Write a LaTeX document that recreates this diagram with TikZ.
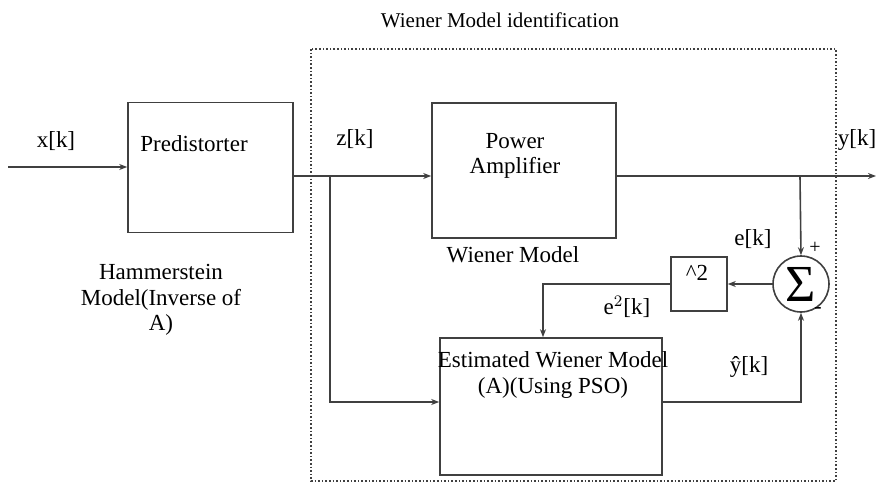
\documentclass[tikz,border=0pt]{standalone}
\usepackage{fontspec}
\setmainfont{Liberation Serif}
\usetikzlibrary{arrows.meta}
\tikzset{
  block/.style={draw, thick, draw=black!75, inner sep=0pt},
  sig/.style={->, >={Stealth[length=4pt,width=3pt]}, draw=black!75, thick},
  txt/.style={font=\fontsize{11.5}{12.8}\selectfont, inner sep=0pt, align=center}
}
\begin{document}
\begin{tikzpicture}[x=0.5pt, y=-0.5pt]
  \useasboundingbox (0,0) rectangle (880,482);
  % blocks
  \node [block, minimum width=82.5pt, minimum height=65pt] (pred) at (210.5,167.5) {};
  \node [block, minimum width=92pt, minimum height=67.5pt] (pa) at (524,170.5) {};
  \node [block, minimum width=111pt, minimum height=68.5pt] (est) at (551,406.5) {};
  \node [block, minimum width=28pt, minimum height=27pt] (sq) at (699,284) {};
  \node [draw, thick, draw=black!75, circle, minimum size=28pt, inner sep=0pt] (sum) at (801,284)
    {\fontsize{26}{26}\selectfont Σ};
  \draw [densely dotted, thick, black!75] (311,49) rectangle (836,481);
  % texts
  \node [txt] (predtxt) at (194,144) {Predistorter};
  \node [txt] (patxt) at (515,156) {Power\\Amplifier};
  \node [txt] (esttxt) at (553,375) {Estimated Wiener Model\\(A)(Using PSO)};
  \node [txt] (sqtxt) at (697,273) {\^{}2};
  \node [txt] (ham) at (161,300) {Hammerstein\\Model(Inverse of\\A)};
  \node [txt] (wm) at (513,255) {Wiener Model};
  \node [txt, font=\fontsize{10.5}{12}\selectfont] (wmi) at (500,20) {Wiener Model identification};
  \node [txt] (xk) at (56,141) {x[k]};
  \node [txt] (zk) at (355,139) {z[k]};
  \node [txt] (yk) at (857,140) {y[k]};
  \node [txt] (ek) at (753,239) {e[k]};
  \node [txt] (e2k) at (627,307) {e$^{2}$[k]};
  \node [txt] (yhat) at (749,367) {ŷ[k]};
  \node [txt, font=\fontsize{10}{10}\selectfont] (plus) at (815,248) {+};
  \node [txt, font=\fontsize{11}{11}\selectfont] (minus) at (818,310) {-};
  % connectors
  \coordinate (in) at (8,167);
  \coordinate (out) at (876,176);
  \coordinate (zsplit) at (330,176);
  \coordinate (ysplit) at (800,176);
  \draw [sig] (in) -- (in -| pred.west);
  \draw [sig] (pred.east |- zsplit) -- (pa.west |- zsplit);
  \draw [sig] (pa.east |- out) -- (out);
  \draw [sig] (zsplit) |- (est.west |- 0,402);
  \draw [sig] (ysplit) -- (sum.north);
  \draw [sig] (est.east |- 0,402) -| (sum.south);
  \draw [sig] (sum.west) -- (sq.east);
  \draw [sig] (sq.west) -| (est.north -| 543,0);
\end{tikzpicture}
\end{document}
